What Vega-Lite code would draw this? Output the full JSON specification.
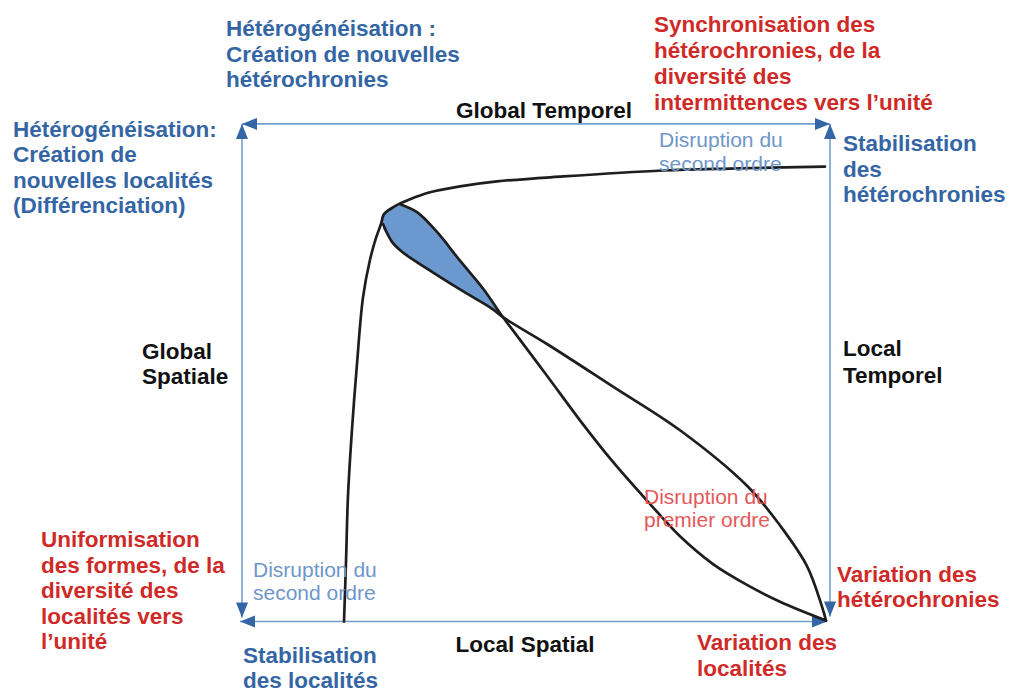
{
  "$schema": "https://vega.github.io/schema/vega-lite/v6.json",
  "width": 1010,
  "height": 692,
  "padding": 0,
  "autosize": {"type": "fit", "contains": "padding"},
  "config": {"view": {"stroke": null}, "background": "white"},
  "datasets": {
    "lobe": [
      {"x": 383, "top": 216, "bottom": 231},
      {"x": 392, "top": 210, "bottom": 244},
      {"x": 402, "top": 207, "bottom": 253},
      {"x": 417, "top": 214, "bottom": 264},
      {"x": 437, "top": 234, "bottom": 277},
      {"x": 460, "top": 263, "bottom": 291},
      {"x": 483, "top": 291, "bottom": 305},
      {"x": 503, "top": 319, "bottom": 319}
    ],
    "frame": [
      {"side": "top", "i": 0, "x": 242, "y": 125},
      {"side": "top", "i": 1, "x": 830, "y": 125},
      {"side": "left", "i": 0, "x": 242, "y": 125},
      {"side": "left", "i": 1, "x": 242, "y": 623},
      {"side": "right", "i": 0, "x": 830, "y": 125},
      {"side": "right", "i": 1, "x": 830, "y": 622},
      {"side": "bottom", "i": 0, "x": 240, "y": 627},
      {"side": "bottom", "i": 1, "x": 827, "y": 627}
    ],
    "heads": [
      {"dir": "left", "x": 242, "y": 125},
      {"dir": "right", "x": 830, "y": 125},
      {"dir": "up", "x": 242, "y": 125},
      {"dir": "down", "x": 242, "y": 623},
      {"dir": "up", "x": 830, "y": 125},
      {"dir": "down", "x": 830, "y": 622},
      {"dir": "left", "x": 240, "y": 627},
      {"dir": "right", "x": 827, "y": 627}
    ],
    "curves": [
      {"path": "a", "i": 0, "x": 344, "y": 627},
      {"path": "a", "i": 1, "x": 346, "y": 567},
      {"path": "a", "i": 2, "x": 348, "y": 500},
      {"path": "a", "i": 3, "x": 352, "y": 433},
      {"path": "a", "i": 4, "x": 357, "y": 367},
      {"path": "a", "i": 5, "x": 363, "y": 300},
      {"path": "a", "i": 6, "x": 370, "y": 262},
      {"path": "a", "i": 7, "x": 376, "y": 240},
      {"path": "a", "i": 8, "x": 381, "y": 226},
      {"path": "a", "i": 9, "x": 384, "y": 216},
      {"path": "a", "i": 10, "x": 395, "y": 208},
      {"path": "a", "i": 11, "x": 410, "y": 201},
      {"path": "a", "i": 12, "x": 430, "y": 194},
      {"path": "a", "i": 13, "x": 460, "y": 188},
      {"path": "a", "i": 14, "x": 497, "y": 183},
      {"path": "a", "i": 15, "x": 563, "y": 178},
      {"path": "a", "i": 16, "x": 663, "y": 172},
      {"path": "a", "i": 17, "x": 730, "y": 170},
      {"path": "a", "i": 18, "x": 825, "y": 168},
      {"path": "b", "i": 0, "x": 400, "y": 206},
      {"path": "b", "i": 1, "x": 417, "y": 214},
      {"path": "b", "i": 2, "x": 437, "y": 234},
      {"path": "b", "i": 3, "x": 460, "y": 263},
      {"path": "b", "i": 4, "x": 483, "y": 291},
      {"path": "b", "i": 5, "x": 503, "y": 320},
      {"path": "b", "i": 6, "x": 515, "y": 336},
      {"path": "b", "i": 7, "x": 547, "y": 379},
      {"path": "b", "i": 8, "x": 580, "y": 424},
      {"path": "b", "i": 9, "x": 613, "y": 466},
      {"path": "b", "i": 10, "x": 647, "y": 505},
      {"path": "b", "i": 11, "x": 680, "y": 541},
      {"path": "b", "i": 12, "x": 713, "y": 569},
      {"path": "b", "i": 13, "x": 747, "y": 590},
      {"path": "b", "i": 14, "x": 780, "y": 607},
      {"path": "b", "i": 15, "x": 826, "y": 626},
      {"path": "c", "i": 0, "x": 383, "y": 226},
      {"path": "c", "i": 1, "x": 392, "y": 244},
      {"path": "c", "i": 2, "x": 402, "y": 254},
      {"path": "c", "i": 3, "x": 427, "y": 271},
      {"path": "c", "i": 4, "x": 460, "y": 292},
      {"path": "c", "i": 5, "x": 493, "y": 312},
      {"path": "c", "i": 6, "x": 503, "y": 320},
      {"path": "c", "i": 7, "x": 547, "y": 347},
      {"path": "c", "i": 8, "x": 613, "y": 390},
      {"path": "c", "i": 9, "x": 680, "y": 434},
      {"path": "c", "i": 10, "x": 747, "y": 490},
      {"path": "c", "i": 11, "x": 780, "y": 530},
      {"path": "c", "i": 12, "x": 807, "y": 571},
      {"path": "c", "i": 13, "x": 822, "y": 612},
      {"path": "c", "i": 14, "x": 826, "y": 626}
    ],
    "labels": [
      {"role": "blue", "x": 226, "y": 27, "text": "Hétérogénéisation :"},
      {"role": "blue", "x": 226, "y": 52.5, "text": "Création de nouvelles"},
      {"role": "blue", "x": 226, "y": 78, "text": "hétérochronies"},
      {"role": "red", "x": 654, "y": 22.5, "text": "Synchronisation des"},
      {"role": "red", "x": 654, "y": 49, "text": "hétérochronies, de la"},
      {"role": "red", "x": 654, "y": 75.5, "text": "diversité des"},
      {"role": "red", "x": 654, "y": 101.5, "text": "intermittences vers l’unité"},
      {"role": "blue", "x": 13, "y": 128.5, "text": "Hétérogénéisation:"},
      {"role": "blue", "x": 13, "y": 154, "text": "Création de"},
      {"role": "blue", "x": 13, "y": 180, "text": "nouvelles localités"},
      {"role": "blue", "x": 13, "y": 205.5, "text": "(Différenciation)"},
      {"role": "blue", "x": 843, "y": 143, "text": "Stabilisation"},
      {"role": "blue", "x": 843, "y": 168.5, "text": "des"},
      {"role": "blue", "x": 843, "y": 194, "text": "hétérochronies"},
      {"role": "black", "x": 142, "y": 352.5, "text": "Global"},
      {"role": "black", "x": 142, "y": 378, "text": "Spatiale"},
      {"role": "black", "x": 843, "y": 350, "text": "Local"},
      {"role": "black", "x": 843, "y": 376.5, "text": "Temporel"},
      {"role": "red", "x": 41, "y": 542.5, "text": "Uniformisation"},
      {"role": "red", "x": 41, "y": 568, "text": "des formes, de la"},
      {"role": "red", "x": 41, "y": 594, "text": "diversité des"},
      {"role": "red", "x": 41, "y": 620, "text": "localités vers"},
      {"role": "red", "x": 41, "y": 645.5, "text": "l’unité"},
      {"role": "red", "x": 837, "y": 577.5, "text": "Variation des"},
      {"role": "red", "x": 837, "y": 603, "text": "hétérochronies"},
      {"role": "blue", "x": 243, "y": 659, "text": "Stabilisation"},
      {"role": "blue", "x": 243, "y": 684, "text": "des localités"},
      {"role": "red", "x": 697, "y": 646.5, "text": "Variation des"},
      {"role": "red", "x": 697, "y": 672.5, "text": "localités"}
    ],
    "titles": [
      {"x": 544, "y": 109.5, "text": "Global Temporel"},
      {"x": 525, "y": 648, "text": "Local Spatial"}
    ],
    "notes": [
      {"role": "blue", "x": 659, "y": 140, "text": "Disruption du"},
      {"role": "blue", "x": 659, "y": 163.5, "text": "second ordre"},
      {"role": "blue", "x": 253, "y": 573.5, "text": "Disruption du"},
      {"role": "blue", "x": 253, "y": 597, "text": "second ordre"},
      {"role": "red", "x": 644, "y": 499.5, "text": "Disruption du"},
      {"role": "red", "x": 644, "y": 523, "text": "premier ordre"}
    ]
  },
  "layer": [
    {
      "data": {"name": "lobe"},
      "mark": {"type": "area", "orient": "vertical", "color": "#6b99cf", "interpolate": "monotone"},
      "encoding": {
        "x": {"field": "x", "type": "quantitative", "scale": {"domain": [0, 1010], "nice": false, "zero": false}, "axis": null},
        "y": {"field": "top", "type": "quantitative", "scale": {"domain": [0, 692], "reverse": true, "nice": false, "zero": false}, "axis": null},
        "y2": {"field": "bottom"}
      }
    },
    {
      "data": {"name": "frame"},
      "mark": {"type": "line", "color": "#729fcf", "strokeWidth": 1.6},
      "encoding": {
        "x": {"field": "x", "type": "quantitative", "scale": {"domain": [0, 1010], "nice": false, "zero": false}, "axis": null},
        "y": {"field": "y", "type": "quantitative", "scale": {"domain": [0, 692], "reverse": true, "nice": false, "zero": false}, "axis": null},
        "detail": {"field": "side"},
        "order": {"field": "i"}
      }
    },
    {
      "data": {"name": "heads"},
      "mark": {"type": "point", "filled": true, "color": "#3465a4", "opacity": 1, "size": 225, "strokeWidth": 0},
      "encoding": {
        "x": {"field": "x", "type": "quantitative", "scale": {"domain": [0, 1010], "nice": false, "zero": false}, "axis": null},
        "y": {"field": "y", "type": "quantitative", "scale": {"domain": [0, 692], "reverse": true, "nice": false, "zero": false}, "axis": null},
        "shape": {
          "field": "dir",
          "type": "nominal",
          "legend": null,
          "scale": {
            "domain": ["left", "right", "up", "down"],
            "range": ["M0,0L2,-0.8L2,0.8Z", "M0,0L-2,-0.8L-2,0.8Z", "M0,0L-0.8,2L0.8,2Z", "M0,0L-0.8,-2L0.8,-2Z"]
          }
        }
      }
    },
    {
      "data": {"name": "curves"},
      "mark": {"type": "line", "color": "#1e1e1e", "strokeWidth": 2.7, "interpolate": "catmull-rom", "strokeCap": "round", "strokeJoin": "round"},
      "encoding": {
        "x": {"field": "x", "type": "quantitative", "scale": {"domain": [0, 1010], "nice": false, "zero": false}, "axis": null},
        "y": {"field": "y", "type": "quantitative", "scale": {"domain": [0, 692], "reverse": true, "nice": false, "zero": false}, "axis": null},
        "detail": {"field": "path"},
        "order": {"field": "i"}
      }
    },
    {
      "data": {"name": "notes"},
      "mark": {"type": "text", "align": "left", "baseline": "middle", "font": "Liberation Sans", "fontSize": 21, "dy": 2.5},
      "encoding": {
        "x": {"field": "x", "type": "quantitative", "scale": {"domain": [0, 1010], "nice": false, "zero": false}, "axis": null},
        "y": {"field": "y", "type": "quantitative", "scale": {"domain": [0, 692], "reverse": true, "nice": false, "zero": false}, "axis": null},
        "text": {"field": "text"},
        "color": {"field": "role", "type": "nominal", "legend": null, "scale": {"domain": ["blue", "red"], "range": ["#6f96c9", "#e5585a"]}}
      }
    },
    {
      "data": {"name": "labels"},
      "mark": {"type": "text", "align": "left", "baseline": "middle", "font": "Liberation Sans", "fontSize": 22.5, "fontWeight": "bold", "dy": 2.5},
      "encoding": {
        "x": {"field": "x", "type": "quantitative", "scale": {"domain": [0, 1010], "nice": false, "zero": false}, "axis": null},
        "y": {"field": "y", "type": "quantitative", "scale": {"domain": [0, 692], "reverse": true, "nice": false, "zero": false}, "axis": null},
        "text": {"field": "text"},
        "color": {"field": "role", "type": "nominal", "legend": null, "scale": {"domain": ["blue", "red", "black"], "range": ["#3465a4", "#cf2a27", "#111111"]}}
      }
    },
    {
      "data": {"name": "titles"},
      "mark": {"type": "text", "align": "center", "baseline": "middle", "font": "Liberation Sans", "fontSize": 22.5, "fontWeight": "bold", "color": "#111111", "dy": 2.5},
      "encoding": {
        "x": {"field": "x", "type": "quantitative", "scale": {"domain": [0, 1010], "nice": false, "zero": false}, "axis": null},
        "y": {"field": "y", "type": "quantitative", "scale": {"domain": [0, 692], "reverse": true, "nice": false, "zero": false}, "axis": null},
        "text": {"field": "text"}
      }
    }
  ],
  "resolve": {"scale": {"color": "independent"}}
}
